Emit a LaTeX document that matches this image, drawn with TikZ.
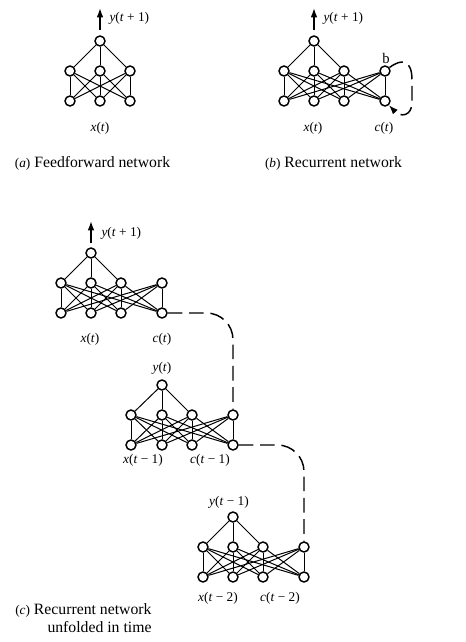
\documentclass[tikz,border=0pt]{standalone}
\usepackage{fontspec}
\setmainfont{Liberation Serif}
\usetikzlibrary{arrows.meta}

\tikzset{every picture/.style={line width=0.75pt}}
\tikzset{
  neuron/.style={circle,draw,line width=1.1pt,fill=white,minimum size=7.5pt,inner sep=0pt},
  lbl/.style={font=\fontsize{10}{12}\selectfont,inner sep=0pt},
  caption/.style={font=\fontsize{11.8}{14}\selectfont,inner sep=0pt},
  recur/.style={dash pattern=on 11pt off 5pt,line width=1.1pt},
  outarrow/.style={-{Latex[length=7pt,width=5pt]},line width=1.1pt}
}

\begin{document}
\begin{tikzpicture}[x=0.75pt,y=0.75pt,yscale=-1,xscale=1]
\useasboundingbox (0,0) rectangle (465,642);

%Network (a): feedforward
\node[neuron] (a-o) at (100,41) {};
\foreach \i/\x in {1/70,2/100,3/130}{
  \node[neuron] (a-h\i) at (\x,71) {};
  \node[neuron] (a-i\i) at (\x,101) {};
}
\foreach \i in {1,2,3}{
  \draw (a-o) -- (a-h\i);
  \foreach \j in {1,2,3} \draw (a-i\i) -- (a-h\j);
}
\coordinate (a-base) at (100,30);
\coordinate (a-tip) at (100,8);
\draw[outarrow] (a-base) -- (a-tip);

%Network (b): recurrent
\node[neuron] (b-o) at (314,41) {};
\foreach \i/\x in {1/284,2/314,3/344,4/385}{
  \node[neuron] (b-h\i) at (\x,71) {};
  \node[neuron] (b-i\i) at (\x,101) {};
}
\foreach \i in {1,...,4}{
  \foreach \j in {1,...,4} \draw (b-i\i) -- (b-h\j);
}
\foreach \i in {1,2,3} \draw (b-o) -- (b-h\i);
\coordinate (b-base) at (314,30);
\coordinate (b-tip) at (314,8);
\draw[outarrow] (b-base) -- (b-tip);
\draw[recur,-{Latex[length=7pt,width=5pt]}] (b-h4) .. controls (402,58) and (412,60) .. (412,80) -- (412,102) .. controls (412,117) and (400,117) .. (b-i4);

%Network (c): unfolded, step t
\node[neuron] (c1-o) at (91,253) {};
\foreach \i/\x in {1/61,2/91,3/121,4/162}{
  \node[neuron] (c1-h\i) at (\x,283) {};
  \node[neuron] (c1-i\i) at (\x,313) {};
}
\foreach \i in {1,...,4}{
  \foreach \j in {1,...,4} \draw (c1-i\i) -- (c1-h\j);
}
\foreach \i in {1,2,3} \draw (c1-o) -- (c1-h\i);
\coordinate (c1-base) at (91,243);
\coordinate (c1-tip) at (91,221);
\draw[outarrow] (c1-base) -- (c1-tip);

%Network (c): step t-1
\node[neuron] (c2-o) at (162,385) {};
\foreach \i/\x in {1/131,2/162,3/192,4/233}{
  \node[neuron] (c2-h\i) at (\x,415) {};
  \node[neuron] (c2-i\i) at (\x,445) {};
}
\foreach \i in {1,...,4}{
  \foreach \j in {1,...,4} \draw (c2-i\i) -- (c2-h\j);
}
\foreach \i in {1,2,3} \draw (c2-o) -- (c2-h\i);

%Network (c): step t-2
\node[neuron] (c3-o) at (233,517) {};
\foreach \i/\x in {1/203,2/233,3/263,4/304}{
  \node[neuron] (c3-h\i) at (\x,547) {};
  \node[neuron] (c3-i\i) at (\x,577) {};
}
\foreach \i in {1,...,4}{
  \foreach \j in {1,...,4} \draw (c3-i\i) -- (c3-h\j);
}
\foreach \i in {1,2,3} \draw (c3-o) -- (c3-h\i);

%Context links
\draw[recur,rounded corners=20] (c1-i4) -| (c2-h4);
\draw[recur,rounded corners=20] (c2-i4) -| (c3-h4);

% Text Node
\node[lbl,anchor=west] (a-y) at (109,18) {\textit{y}(\textit{t} + 1)};
% Text Node
\node[lbl] (a-x) at (100,128) {\textit{x}(\textit{t})};
% Text Node
\node[lbl,anchor=west] (b-y) at (323,18) {\textit{y}(\textit{t} + 1)};
% Text Node
\node[lbl] (b-b) at (386,58) {\fontsize{11}{12}\selectfont b};
% Text Node
\node[lbl] (b-x) at (313,128) {\textit{x}(\textit{t})};
% Text Node
\node[lbl] (b-c) at (384,128) {\textit{c}(\textit{t})};
% Text Node
\node[lbl,anchor=west] (c1-y) at (101,233) {\textit{y}(\textit{t} + 1)};
% Text Node
\node[lbl] (c1-x) at (90,339) {\textit{x}(\textit{t})};
% Text Node
\node[lbl] (c1-c) at (162,339) {\textit{c}(\textit{t})};
% Text Node
\node[lbl] (c2-y) at (162,368) {\textit{y}(\textit{t})};
% Text Node
\node[lbl] (c2-x) at (143,460) {\textit{x}(\textit{t} − 1)};
% Text Node
\node[lbl] (c2-c) at (210,460) {\textit{c}(\textit{t} − 1)};
% Text Node
\node[lbl] (c3-y) at (229,502) {\textit{y}(\textit{t} − 1)};
% Text Node
\node[lbl] (c3-x) at (218,598) {\textit{x}(\textit{t} − 2)};
% Text Node
\node[lbl] (c3-c) at (280,598) {\textit{c}(\textit{t} − 2)};

% Captions
\node[caption] (cap-a) at (92.5,163) {{\fontsize{10}{12}\selectfont(\textit{a})} Feedforward network};
\node[caption] (cap-b) at (333.5,163) {{\fontsize{10}{12}\selectfont(\textit{b})} Recurrent network};
\node[caption,anchor=east] (cap-c1) at (152,610) {{\fontsize{10}{12}\selectfont(\textit{c})} Recurrent network};
\node[caption,anchor=east] (cap-c2) at (152,627) {unfolded in time};

\end{tikzpicture}
\end{document}
